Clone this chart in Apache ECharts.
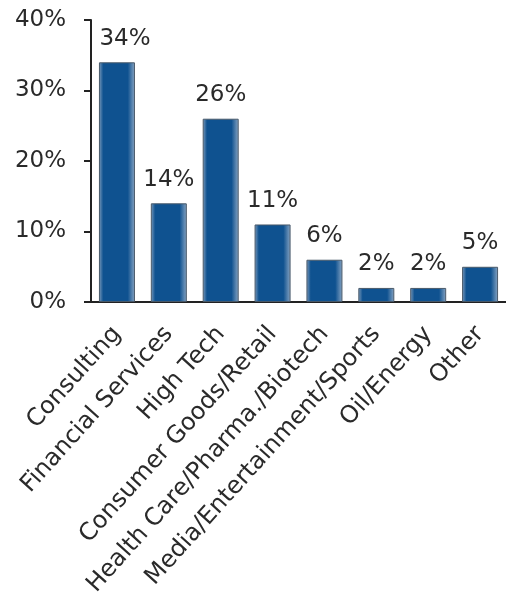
<!DOCTYPE html>
<html>
<head>
<meta charset="utf-8">
<script src="https://cdn.jsdelivr.net/npm/echarts@6/dist/echarts.min.js"></script>
<style>
  html, body { margin: 0; padding: 0; background: #fff; }
  #chart { width: 506px; height: 599px; }
</style>
</head>
<body>
<div id="chart"></div>
<script>
const categories = ['Consulting', 'Financial Services', 'High Tech', 'Consumer Goods/Retail',
  'Health Care/Pharma./Biotech', 'Media/Entertainment/Sports', 'Oil/Energy', 'Other']
const shares = [34, 14, 26, 11, 6, 2, 2, 5]
const yTicks = [0, 10, 20, 30, 40]

const font = 'DejaVu Sans, Verdana, sans-serif'
const chart = echarts.init(document.getElementById('chart'))

// bar fill: dark blue with lighter sides
const barFill = new echarts.graphic.LinearGradient(0, 0, 1, 0, [
  { offset: 0, color: '#7d9cbc' },
  { offset: 0.12, color: '#0f5290' },
  { offset: 0.8, color: '#0f5290' },
  { offset: 1, color: '#8aa6c4' }
])

// the first value label sits a little right of its bar, clear of the axis
const barData = shares.map((v, i) => i === 0 ? { value: v, label: { offset: [8, 0] } } : v)

const option = {
  animation: false,
  grid: { left: 91, right: -4, top: 20, bottom: 296, containLabel: false },
  xAxis: {
    type: 'category',
    data: categories,
    axisLine: { lineStyle: { color: '#222', width: 2 } },
    axisTick: { show: false },
    axisLabel: {
      rotate: 48,
      interval: 0,
      margin: 28,
      color: '#2a2a2a',
      fontSize: 24,
      fontFamily: font
    }
  },
  yAxis: {
    type: 'value',
    min: yTicks[0],
    max: yTicks[yTicks.length - 1],
    interval: 10,
    splitLine: { show: false },
    axisLine: { show: true, lineStyle: { color: '#222', width: 2 } },
    axisTick: { show: true, length: 7, lineStyle: { color: '#222', width: 2 } },
    axisLabel: {
      margin: 25,
      color: '#2a2a2a',
      fontSize: 23,
      fontFamily: font,
      formatter: '{value}%'
    }
  },
  series: [{
    type: 'bar',
    data: barData,
    barWidth: 36,
    itemStyle: {
      color: barFill,
      borderColor: '#4a5a6a',
      borderWidth: 1
    },
    label: {
      show: true,
      position: 'top',
      distance: 12,
      color: '#2a2a2a',
      fontSize: 23,
      fontFamily: font,
      formatter: '{c}%'
    }
  }]
}
chart.setOption(option)
</script>
</body>
</html>
